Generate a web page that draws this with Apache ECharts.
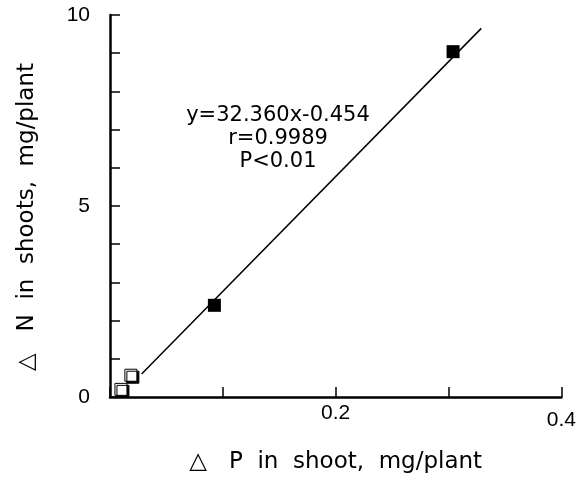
<!DOCTYPE html>
<html>
<head>
<meta charset="utf-8">
<script src="https://cdn.jsdelivr.net/npm/echarts@6/dist/echarts.min.js"></script>
<style>
  html, body { margin: 0; padding: 0; background: #fff; }
  #chart { width: 579px; height: 479px; }
</style>
</head>
<body>
<div id="chart"></div>
<script>
  // measured points (delta P, delta N)
  const filledPts = [[0.0925, 2.4], [0.304, 9.04]]
  const openPts = [[0.0097, 0.2], [0.0185, 0.57]]
  // regression line end points as drawn
  const fitLine = [[0.028, 0.6], [0.329, 9.65]]
  const xLabels = ['0.2', '0.4']
  const yLabels = ['0', '5', '10']
  const noteLines = ['y=32.360x-0.454', 'r=0.9989', 'P<0.01']

  const font = 'Liberation Sans, Arial, sans-serif'
  const wideFont = 'DejaVu Sans, sans-serif'
  const chart = echarts.init(document.getElementById('chart'))

  chart.setOption({
    animation: false,
    grid: { left: 110, right: 15, top: 15, bottom: 80 },
    xAxis: {
      type: 'value',
      min: 0,
      max: 0.4,
      interval: 0.1,
      name: '\u25B3   P  in  shoot,  mg/plant',
      nameLocation: 'middle',
      nameGap: 54,
      nameTextStyle: { color: '#000', fontSize: 23, fontFamily: wideFont },
      axisLine: { lineStyle: { color: '#000', width: 2.5 } },
      axisTick: { inside: true, length: 10, lineStyle: { color: '#000', width: 1.5 } },
      axisLabel: {
        color: '#000',
        fontSize: 21,
        fontFamily: font,
        margin: 6,
        formatter: v => {
          const s = v.toFixed(1)
          if (s === '0.4') return '{low|' + s + '}'
          return xLabels.indexOf(s) >= 0 ? s : ''
        },
        rich: {
          low: { color: '#000', fontSize: 21, fontFamily: font, padding: [7, 0, 0, 0] }
        }
      },
      splitLine: { show: false }
    },
    yAxis: {
      type: 'value',
      min: 0,
      max: 10,
      interval: 1,
      name: '\u25B3   N  in  shoots,  mg/plant',
      nameLocation: 'middle',
      nameGap: 71,
      nameTextStyle: { color: '#000', fontSize: 23, fontFamily: wideFont, padding: [0, 22, 0, 0] },
      axisLine: { lineStyle: { color: '#000', width: 2.5 } },
      axisTick: { inside: true, length: 10, lineStyle: { color: '#000', width: 1.5 } },
      axisLabel: {
        color: '#000',
        fontSize: 21,
        fontFamily: font,
        margin: 20,
        formatter: v => (yLabels.indexOf(String(v)) >= 0 ? String(v) : '')
      },
      splitLine: { show: false }
    },
    series: [
      {
        type: 'line',
        data: fitLine,
        showSymbol: false,
        lineStyle: { color: '#000', width: 1.5 },
        z: 1
      },
      {
        type: 'scatter',
        data: openPts,
        symbol: 'rect',
        symbolSize: 12,
        itemStyle: {
          color: '#fff',
          opacity: 1,
          borderColor: '#000',
          borderWidth: 1,
          shadowColor: '#000',
          shadowBlur: 0,
          shadowOffsetX: 2,
          shadowOffsetY: 2
        },
        z: 3
      },
      {
        type: 'scatter',
        data: filledPts,
        symbol: 'rect',
        symbolSize: 13,
        itemStyle: { color: '#000', opacity: 1 },
        z: 3
      }
    ],
    graphic: [
      {
        type: 'text',
        x: 278,
        y: 104,
        style: {
          text: noteLines.join('\n'),
          fill: '#000',
          font: '21px ' + wideFont,
          align: 'center',
          lineHeight: 23
        }
      }
    ]
  })
</script>
</body>
</html>
